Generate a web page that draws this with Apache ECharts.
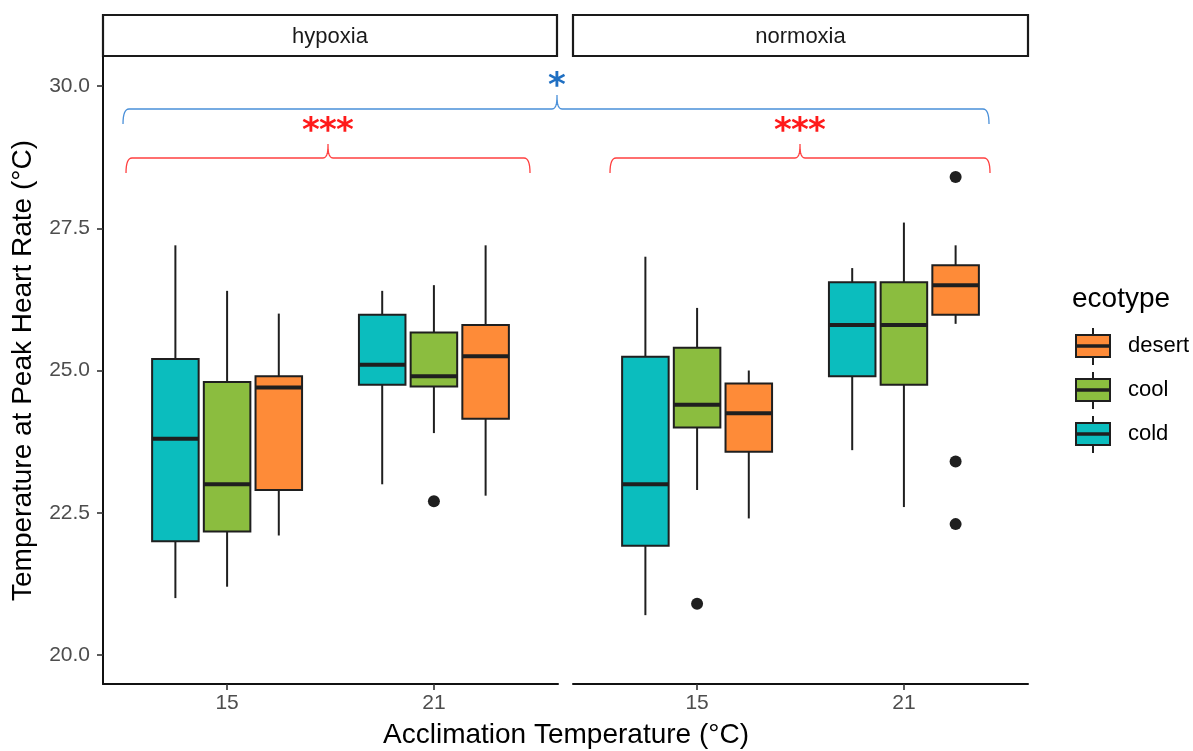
<!DOCTYPE html>
<html><head><meta charset="utf-8">
<script src="https://cdn.jsdelivr.net/npm/echarts@6/dist/echarts.min.js"></script>
<style>html,body{margin:0;padding:0;background:#fff}#c{width:1193px;height:751px}</style>
</head><body><div id="c"></div>
<script>
const categories = ['15', '21'];
const panels = ['hypoxia', 'normoxia'];
const ecotypes = ['cold', 'cool', 'desert'];
const legendOrder = ['desert', 'cool', 'cold'];
const yTicks = [20, 22.5, 25, 27.5, 30];

// box stats per acclimation temperature: [min, q1, median, q3, max]
const hypoxiaCold   = [[21.0, 22.0, 23.8, 25.2, 27.2], [23.0, 24.75, 25.1, 25.98, 26.4]];
const hypoxiaCool   = [[21.2, 22.17, 23.0, 24.8, 26.4], [23.9, 24.72, 24.9, 25.67, 26.5]];
const hypoxiaDesert = [[22.1, 22.9, 24.7, 24.9, 26.0], [22.8, 24.15, 25.25, 25.8, 27.2]];
const normoxiaCold   = [[20.7, 21.92, 23.0, 25.24, 27.0], [23.6, 24.9, 25.8, 26.55, 26.8]];
const normoxiaCool   = [[22.9, 24.0, 24.4, 25.4, 26.1], [22.6, 24.75, 25.8, 26.55, 27.6]];
const normoxiaDesert = [[22.4, 23.57, 24.25, 24.77, 25.0], [25.82, 25.98, 26.5, 26.85, 27.2]];

// outliers: [temperature, ecotype, value]
const hypoxiaOutliers  = [['21', 'cool', 22.7]];
const normoxiaOutliers = [['15', 'cool', 20.9], ['21', 'desert', 28.4], ['21', 'desert', 23.4], ['21', 'desert', 22.3]];

const colors = { cold: '#0BBDBE', cool: '#8BBD3F', desert: '#FE8B38' };
const dark = '#1f1f1f';
const FONT = '"Liberation Sans", Arial, sans-serif';

const statsByPanel = {
  hypoxia: { cold: hypoxiaCold, cool: hypoxiaCool, desert: hypoxiaDesert },
  normoxia: { cold: normoxiaCold, cool: normoxiaCool, desert: normoxiaDesert }
};
const outliersByPanel = { hypoxia: hypoxiaOutliers, normoxia: normoxiaOutliers };

const DODGE = 0.25, BOXW = 0.225;
function xPos(cat, eco) {
  return categories.indexOf(cat) + 1 + (ecotypes.indexOf(eco) - 1) * DODGE;
}

function renderBox(params, api) {
  const x = api.value(0);
  const pMin = api.coord([x, api.value(1)]);
  const pQ1 = api.coord([x, api.value(2)]);
  const pMed = api.coord([x, api.value(3)]);
  const pQ3 = api.coord([x, api.value(4)]);
  const pMax = api.coord([x, api.value(5)]);
  const w = api.size([BOXW, 0])[0];
  const fill = api.visual('color');
  const line = { stroke: dark, lineWidth: 2 };
  return {
    type: 'group',
    children: [
      { type: 'line', shape: { x1: pMin[0], y1: pMin[1], x2: pQ1[0], y2: pQ1[1] }, style: line },
      { type: 'line', shape: { x1: pQ3[0], y1: pQ3[1], x2: pMax[0], y2: pMax[1] }, style: line },
      { type: 'rect', shape: { x: pQ3[0] - w / 2, y: pQ3[1], width: w, height: pQ1[1] - pQ3[1] },
        style: { fill: fill, stroke: dark, lineWidth: 2 } },
      { type: 'line', shape: { x1: pMed[0] - w / 2, y1: pMed[1], x2: pMed[0] + w / 2, y2: pMed[1] },
        style: { stroke: dark, lineWidth: 4 } }
    ]
  };
}

const grids = [
  { left: 103, top: 57, width: 455, height: 627 },
  { left: 573, top: 57, width: 455, height: 627 }
];

const xAxes = panels.map((p, i) => ({
  type: 'value', gridIndex: i, min: 0.4, max: 2.6,
  axisLine: { show: true, onZero: false, lineStyle: { color: '#111', width: 2 } },
  axisTick: { show: true, customValues: [1, 2], length: 6, lineStyle: { color: '#333', width: 1.6 } },
  axisLabel: { customValues: [1, 2], formatter: v => categories[Math.round(v) - 1], color: '#4D4D4D',
    fontSize: 21, fontFamily: FONT, margin: 9 },
  splitLine: { show: false }
}));

const yAxes = panels.map((p, i) => ({
  type: 'value', gridIndex: i, min: 19.49, max: 30.51,
  show: i === 0,
  name: i === 0 ? 'Temperature at Peak Heart Rate (°C)' : '',
  nameLocation: 'middle', nameGap: 66, nameRotate: 90,
  nameTextStyle: { color: '#000', fontSize: 28, fontFamily: FONT },
  axisLine: { show: true, lineStyle: { color: '#111', width: 2 } },
  axisTick: { show: true, customValues: yTicks, length: 6, lineStyle: { color: '#333', width: 1.6 } },
  axisLabel: { customValues: yTicks, formatter: v => v.toFixed(1), color: '#4D4D4D',
    fontSize: 21, fontFamily: FONT, margin: 13 },
  splitLine: { show: false }
}));

const series = [];
panels.forEach((p, gi) => {
  ecotypes.forEach(eco => {
    series.push({
      type: 'custom', name: eco, xAxisIndex: gi, yAxisIndex: gi,
      itemStyle: { color: colors[eco] },
      renderItem: renderBox,
      encode: { x: 0, y: [1, 2, 3, 4, 5] },
      data: statsByPanel[p][eco].map((s, ci) => [xPos(categories[ci], eco)].concat(s)),
      z: 2
    });
  });
  series.push({
    type: 'scatter', xAxisIndex: gi, yAxisIndex: gi, symbolSize: 12,
    itemStyle: { color: dark, opacity: 1 },
    data: outliersByPanel[p].map(o => [xPos(o[0], o[1]), o[2]]),
    z: 3
  });
});

// annotation brackets (curly) as polylines
function quad(p0, p1, p2, n) {
  const pts = [];
  for (let i = 1; i <= n; i++) {
    const t = i / n, a = (1 - t) * (1 - t), b = 2 * (1 - t) * t, c = t * t;
    pts.push([a * p0[0] + b * p1[0] + c * p2[0], a * p0[1] + b * p1[1] + c * p2[1]]);
  }
  return pts;
}
function bracket(x1, xm, x2, yH, yEnd, yTop) {
  let pts = [[x1, yEnd]];
  pts = pts.concat(quad([x1, yEnd], [x1, yH], [x1 + 6, yH], 8));
  pts.push([xm - 5, yH]);
  pts = pts.concat(quad([xm - 5, yH], [xm, yH], [xm, yTop + 2], 6));
  pts.push([xm, yTop]);
  pts.push([xm, yTop + 2]);
  pts = pts.concat(quad([xm, yTop + 2], [xm, yH], [xm + 5, yH], 6));
  pts.push([x2 - 6, yH]);
  pts = pts.concat(quad([x2 - 6, yH], [x2, yH], [x2, yEnd], 8));
  return pts;
}
const graphic = [];
[[103, 557, 'hypoxia'], [573, 1028, 'normoxia']].forEach(([l, r, t]) => {
  graphic.push({ type: 'rect', shape: { x: l, y: 15, width: r - l, height: 41 },
    style: { fill: '#fff', stroke: '#1a1a1a', lineWidth: 2.2 } });
  graphic.push({ type: 'text', x: (l + r) / 2, y: 37,
    style: { text: t, fill: '#1a1a1a', font: '22px ' + FONT, align: 'center', verticalAlign: 'middle' } });
});
graphic.push({ type: 'polyline', shape: { points: bracket(123, 557, 989, 109, 124, 95) },
  style: { fill: null, stroke: '#4A90D9', lineWidth: 1.3 } });
graphic.push({ type: 'polyline', shape: { points: bracket(126, 328, 530, 158, 173, 144) },
  style: { fill: null, stroke: '#FF4040', lineWidth: 1.3 } });
graphic.push({ type: 'polyline', shape: { points: bracket(610, 800, 990, 158, 173, 144) },
  style: { fill: null, stroke: '#FF4040', lineWidth: 1.3 } });
graphic.push({ type: 'text', x: 557, y: 87, style: { text: '*', fill: '#1F6FC2',
  font: 'bold 34px "DejaVu Sans", sans-serif', align: 'center', verticalAlign: 'middle' } });
[328, 800].forEach(x => {
  [-17, 0, 17].forEach(dx => {
    graphic.push({ type: 'text', x: x + dx, y: 132, style: { text: '*', fill: '#FF1A1A',
      font: 'bold 34px "DejaVu Sans", sans-serif', align: 'center', verticalAlign: 'middle' } });
  });
});
graphic.push({ type: 'text', x: 566, y: 735, style: { text: 'Acclimation Temperature (°C)', fill: '#000',
  font: '28px ' + FONT, align: 'center', verticalAlign: 'middle' } });

// legend
graphic.push({ type: 'text', x: 1072, y: 299, style: { text: 'ecotype', fill: '#000',
  font: '28px ' + FONT, align: 'left', verticalAlign: 'middle' } });
legendOrder.forEach((eco, i) => {
  const cy = 346 + i * 44, cx = 1093;
  graphic.push({ type: 'line', shape: { x1: cx, y1: cy - 18, x2: cx, y2: cy + 19 }, style: { stroke: dark, lineWidth: 2 } });
  graphic.push({ type: 'rect', shape: { x: cx - 17, y: cy - 11, width: 34, height: 22 },
    style: { fill: colors[eco], stroke: dark, lineWidth: 2 } });
  graphic.push({ type: 'line', shape: { x1: cx - 17, y1: cy, x2: cx + 17, y2: cy }, style: { stroke: dark, lineWidth: 3.5 } });
  graphic.push({ type: 'text', x: 1128, y: cy, style: { text: eco, fill: '#000',
    font: '22px ' + FONT, align: 'left', verticalAlign: 'middle' } });
});

const chart = echarts.init(document.getElementById('c'), null, { renderer: 'canvas' });
chart.setOption({
  animation: false,
  backgroundColor: '#fff',
  grid: grids,
  xAxis: xAxes,
  yAxis: yAxes,
  series: series,
  graphic: graphic
});
</script></body></html>
